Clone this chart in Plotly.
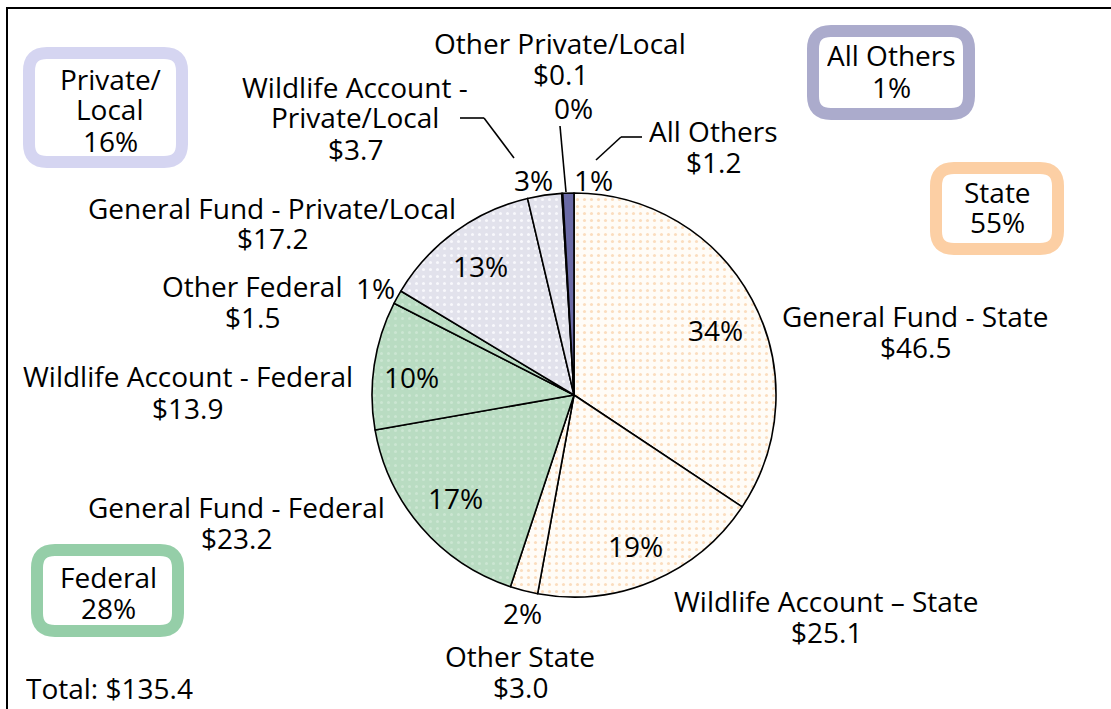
import plotly.graph_objects as go

W, H = 1111, 709

# slices, clockwise from 12 o'clock
labels = ["General Fund - State", "Wildlife Account – State", "Other State",
          "General Fund - Federal", "Wildlife Account - Federal", "Other Federal",
          "General Fund - Private/Local", "Wildlife Account - Private/Local",
          "Other Private/Local", "All Others"]
values = [46.5, 25.1, 3.0, 23.2, 13.9, 1.5, 17.2, 3.7, 0.1, 1.2]
groups = ["State", "State", "State", "Federal", "Federal", "Federal",
          "Private", "Private", "Private", "Others"]

group_names = [["Private/", "Local"], ["All Others"], ["State"], ["Federal"]]
group_pcts = ["16%", "1%", "55%", "28%"]
total_label = "Total: $135.4"

fill = {"State": "#FFFCF7", "Federal": "#B9DCC2", "Private": "#E2E2EC", "Others": "#6A6AA6"}
dots = {"State": "#FBDDBE", "Federal": "#CBE6D2", "Private": "#F8F8FC", "Others": "#6A6AA6"}
box_col = ["#D5D5F1", "#ABABCC", "#FCCFA4", "#95CEA8"]

FONT = "Open Sans"
FS = 28
STEP = 31


def px(x, y):
    return x / W, 1 - y / H


total = sum(values)
pcts = ["%d%%" % round(v / total * 100) for v in values]

fig = go.Figure()

cx, cy, r = 574, 395, 202
fig.add_trace(go.Pie(
    labels=labels, values=values, sort=False, direction="clockwise", rotation=0,
    textinfo="none", hoverinfo="label+value+percent",
    marker=dict(colors=[fill[g] for g in groups],
                line=dict(color="black", width=1.6),
                pattern=dict(shape=".", fillmode="replace",
                             bgcolor=[fill[g] for g in groups],
                             fgcolor=[dots[g] for g in groups],
                             size=7, solidity=0.15)),
    domain=dict(x=[(cx - r) / W, (cx + r) / W], y=[1 - (cy + r) / H, 1 - (cy - r) / H]),
    showlegend=False,
))

ann = []


def txt(x, y, s, anchor="center"):
    ax, ay = px(x, y)
    ann.append(dict(x=ax, y=ay, xref="paper", yref="paper", text=s, showarrow=False,
                    xanchor=anchor, yanchor="middle", height=STEP, borderpad=0,
                    font=dict(family=FONT, size=FS, color="black")))


def lines(x, y, rows):
    for k, s in enumerate(rows):
        txt(x, y + k * STEP, s)


# category labels (name + dollar value): centre x, first line y
name_pos = [(915, 315), (826, 600), (520, 655), (236, 506), (188, 376),
            (252, 285), (272, 207), (355, 86), (560, 42), (713, 131)]
for i, (x, y) in enumerate(name_pos):
    name = labels[i]
    rows = [name]
    if name == "Wildlife Account - Private/Local":
        rows = ["Wildlife Account -", "Private/Local"]
    lines(x, y, rows + ["$%.1f" % values[i]])

# percentages
pct_pos = [(715, 330), (635, 545), (522, 612), (455, 497), (411, 377),
           (375, 287), (480, 265), (533, 179), (573, 108), (593, 179)]
for i, (x, y) in enumerate(pct_pos):
    txt(x, y, pcts[i])

txt(25, 687, total_label, anchor="left")

shapes = []
# outer frame
x0, y0 = px(7, 8)
x1, y1 = px(1125, 725)
shapes.append(dict(type="rect", xref="paper", yref="paper", x0=x0, y0=y1, x1=x1, y1=y0,
                   line=dict(color="black", width=2)))


def rounded(xa, ya, xb, yb, rad):
    p = lambda x, y: "%.5f,%.5f" % px(x, y)
    return ("M %s L %s Q %s %s L %s Q %s %s L %s Q %s %s L %s Q %s %s Z" % (
        p(xa + rad, ya), p(xb - rad, ya), p(xb, ya), p(xb, ya + rad),
        p(xb, yb - rad), p(xb, yb), p(xb - rad, yb),
        p(xa + rad, yb), p(xa, yb), p(xa, yb - rad),
        p(xa, ya + rad), p(xa, ya), p(xa + rad, ya)))


boxes = [(23, 47, 188, 168, 110, 78), (807, 25, 975, 120, 891, 55),
         (930, 162, 1064, 255, 997, 191), (31, 544, 184, 637, 108, 576)]
for (xa, ya, xb, yb, tx, ty), col, nm, pc in zip(boxes, box_col, group_names, group_pcts):
    shapes.append(dict(type="path", xref="paper", yref="paper",
                       path=rounded(xa + 6, ya + 6, xb - 6, yb - 6, 18),
                       line=dict(color=col, width=12), fillcolor="white"))
    lines(tx, ty, nm + [pc])

# leader lines
leaders = [[(460, 118), (484, 118), (514, 158)],
           [(560, 126), (566, 192)],
           [(642, 137), (621, 137), (596, 160)]]
for pts in leaders:
    for a, b in zip(pts[:-1], pts[1:]):
        ax_, ay_ = px(*a)
        bx_, by_ = px(*b)
        shapes.append(dict(type="line", xref="paper", yref="paper",
                           x0=ax_, y0=ay_, x1=bx_, y1=by_,
                           line=dict(color="black", width=1.6)))

fig.update_layout(width=W, height=H, margin=dict(l=0, r=0, t=0, b=0),
                  paper_bgcolor="white", plot_bgcolor="white",
                  annotations=ann, shapes=shapes,
                  font=dict(family=FONT, size=FS))

fig.write_html("out.html", config={"displayModeBar": False},
               post_script="document.body.style.margin='0';")
